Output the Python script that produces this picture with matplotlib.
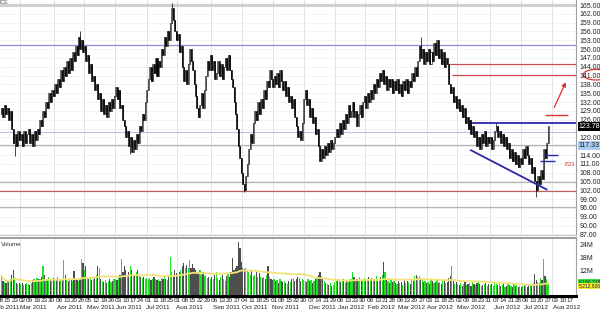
import matplotlib
matplotlib.use("Agg")
import matplotlib.pyplot as plt
import matplotlib.transforms as mtrans
from matplotlib.patches import Ellipse
import numpy as np
import pandas as pd

# ---- data (daily closes / volume in millions, one list per month)
HOLIDAYS = ["2011-02-21", "2011-04-22", "2011-05-30", "2011-07-04", "2011-09-05",
            "2011-11-24", "2011-12-26", "2012-01-02", "2012-01-16", "2012-02-20",
            "2012-04-06", "2012-05-28", "2012-07-04"]
AXIS_START = "2011-02-08"   # first trading day of the x axis
AXIS_END = "2012-08-31"
FIRST_OPEN = 128.0

CLOSES = [
    [130, 127, 131, 128, 130, 126, 129, 123, 118, 121, 117, 122, 119],
    [121, 117, 122, 118, 121, 123, 118, 121, 117, 122, 119, 123, 121, 126, 124, 129, 127, 132, 130,
     135, 132, 136, 134],
    [138, 135, 140, 137, 143, 139, 144, 141, 146, 142, 147, 143, 149, 146, 151, 148, 154, 150, 153, 149],
    [151, 146, 148, 142, 145, 139, 141, 136, 138, 133, 135, 129, 133, 128, 131, 127, 132, 129, 133, 130, 134],
    [137, 133, 136, 130, 131, 126, 124, 120, 122, 117, 120, 115, 119, 116, 121, 118, 124, 122, 128, 126,
     132, 136],
    [140, 144, 139, 145, 142, 147, 141, 146, 144, 150, 148, 154, 151, 156, 153, 159, 164, 160, 156, 153],
    [155, 149, 151, 144, 139, 143, 138, 145, 150, 146, 143, 138, 134, 130, 127, 131, 135, 130, 136, 141,
     146, 143, 148],
    [143, 146, 140, 142, 146, 141, 145, 140, 144, 147, 143, 148, 143, 140, 137, 132, 128, 123, 117, 113, 108],
    [104, 102, 107, 111, 116, 121, 118, 125, 129, 126, 132, 128, 133, 130, 136, 133, 139, 137, 143, 140, 137],
    [141, 138, 142, 137, 143, 139, 136, 139, 134, 137, 132, 134, 130, 133, 127, 124, 120, 122, 119, 125, 133],
    [136, 131, 133, 127, 130, 125, 127, 121, 123, 117, 112, 116, 113, 117, 114, 118, 115, 119, 116, 118, 120],
    [123, 120, 125, 121, 126, 123, 128, 125, 131, 127, 129, 132, 127, 129, 124, 128, 131, 127, 132, 134],
    [130, 135, 132, 136, 133, 138, 135, 140, 137, 142, 139, 143, 138, 141, 136, 140, 137, 140, 135, 139],
    [136, 140, 135, 138, 134, 139, 136, 140, 135, 139, 137, 142, 139, 144, 141, 146, 151, 147, 150, 145,
     149, 146],
    [150, 145, 149, 146, 152, 148, 153, 147, 150, 145, 149, 144, 147, 145, 138, 135, 137, 132, 134, 130],
    [133, 129, 131, 127, 130, 125, 127, 123, 126, 121, 124, 120, 122, 117, 120, 116, 121, 118, 122, 117,
     120, 118],
    [120, 116, 119, 122, 124, 120, 122, 118, 121, 117, 120, 116, 118, 113, 116, 112, 115, 111, 114, 110, 113],
    [111, 116, 113, 117, 114, 111, 113, 108, 110, 105, 102, 107, 104, 109, 106, 116, 113, 118, 123.78],
]
VOLUMES = [
    [9.5, 7, 6.5, 6, 7, 6.5, 8, 10, 12, 9, 6, 5.5, 6],
    [5.5, 6, 5, 5.8, 6.2, 5.6, 5, 6, 7.5, 8, 7, 8.5, 8, 7.8, 9, 14, 10, 8, 7.5, 9, 8, 7, 8.5],
    [7.5, 8, 9, 7, 7.5, 8, 16.6, 10, 8, 7, 7.5, 8, 7, 11.6, 8, 7.5, 7, 8.5, 17, 15.5],
    [12, 14, 9, 8, 8.5, 7.5, 8, 9, 10, 14, 13, 8, 7, 6.5, 7.5, 6, 7, 8, 6.5, 7, 8],
    [8, 7.5, 9, 10, 17, 11, 14, 12, 10, 11, 14, 12, 10, 9.5, 11, 12, 10, 9, 8.5, 9, 8, 8.5],
    [8, 8.5, 7.5, 8, 9, 8, 7.5, 8, 7, 8.5, 8, 9, 8, 7.5, 10, 18, 11, 10, 12, 10.5],
    [10, 11, 12, 14, 15.5, 13, 14.5, 13, 16.6, 13, 15, 13, 12, 11, 10.5, 12, 10, 11, 9.5, 10, 8.5, 9, 8],
    [9, 8, 10, 11, 8.5, 7.5, 9, 10, 8, 7, 9.5, 10.5, 9, 11, 17.8, 12, 13, 14, 25, 22.5, 16],
    [13, 12.5, 13, 12, 11, 10, 12, 9.5, 10, 11, 9, 10.5, 9, 8.5, 9, 8, 10, 14, 9, 8, 7.5],
    [8, 7, 7.5, 6, 8, 7, 6.5, 7, 6, 5.5, 7, 6.5, 8, 8.5, 7, 8, 9, 8.5, 7, 8, 7.5],
    [7, 6.5, 8, 7, 7.5, 6, 7, 8, 9, 10, 11, 9.5, 8, 7, 6, 5.5, 5, 6, 4.5, 5, 6.5],
    [7, 8, 7.5, 6.5, 7, 8, 6, 7.5, 6.5, 7, 8, 11, 9, 7.5, 8, 7, 9, 8, 7, 8.5],
    [7, 8, 9, 7.5, 8.5, 7, 8, 9.5, 7, 8, 9, 10, 16, 11, 8, 7, 6, 7.5, 6.5, 7],
    [6, 5.5, 7, 6, 6.5, 5, 7.5, 6, 7, 6.5, 5.5, 8, 7, 9.5, 10, 9, 9.5, 8.5, 7.5, 6.5, 7, 6],
    [6.5, 5.5, 7.5, 7, 6, 6.5, 7.5, 6, 6.5, 5.5, 7, 7.5, 6, 6.5, 8.5, 9.5, 14, 7, 5.5, 6.5],
    [5.5, 5, 6, 4.5, 5.5, 6.5, 5, 5.5, 6, 4.5, 6.5, 5.5, 5, 6, 6.5, 5.5, 4.5, 5, 5.5, 6, 4.5, 5.5],
    [5, 5.5, 4.5, 6, 6.5, 5, 5.5, 4.5, 5, 5.5, 4, 4.5, 5.5, 5, 4.5, 4, 5.5, 4.5, 5, 4, 4.5],
    [4, 4.5, 5, 4.5, 4, 5, 5.5, 4.5, 6, 10.4, 7.5, 6.5, 6, 8.5, 7.5, 17, 9.5, 8, 6.19],
]
# notable shadows visible on the chart
WICK_DATES = ["2011-02-23", "2011-04-27", "2011-06-15", "2011-07-26", "2011-10-04",
              "2012-03-26", "2012-06-07", "2012-07-17"]
WICK_PRICES = [113.5, 156.0, 114.5, 165.8, 101.3, 154.0, 125.0, 99.7]

# drawn studies
RESIST_LEVEL = 125.0
SUPPORT_FROM = ("2012-05-14", 115.6)
SUPPORT_TO = ("2012-07-26", 102.3)
GAP_TOP, GAP_BOTTOM = 145.0, 141.2
TARGET_LEVEL = 127.6
LAST_PRICE, MARK_PRICE = 123.78, 117.33
FULL_LINES = [(165.0, "#d0d0d0", 2.2), (151.4, "#8c8cd0", 0.9), (121.8, "#c0c0e8", 0.8),
              (117.33, "#b4b4b4", 0.9), (104.8, "#b4b4b4", 0.9), (101.7, "#c06060", 0.9),
              (96.2, "#b4b4b4", 0.9)]

# ---- trading calendar
days = pd.bdate_range(AXIS_START, AXIS_END)
days = days[~days.isin(pd.to_datetime(HOLIDAYS))]
pos = {d: i for i, d in enumerate(days)}

close = np.array([c for m in CLOSES for c in m], dtype=float)
vol = np.array([v for m in VOLUMES for v in m], dtype=float)
n = len(close)
idx = np.arange(1, n + 1)
openp = np.r_[FIRST_OPEN, close[:-1]]
lo = np.minimum(openp, close)
hi = np.maximum(openp, close)
wlo, whi = lo.copy(), hi.copy()
for d, p in zip(WICK_DATES, WICK_PRICES):
    k = pos[pd.Timestamp(d)] - 1
    wlo[k] = min(wlo[k], p)
    whi[k] = max(whi[k], p)
up = close >= openp

plt.rcParams["font.family"] = ["Liberation Sans", "DejaVu Sans"]
fig = plt.figure(figsize=(6.0, 3.09), dpi=100)
W, H = 600, 309
ax = fig.add_axes([0, 1 - 235 / H, 576 / W, 235 / H])
axv = fig.add_axes([0, 1 - 296 / H, 576 / W, 58 / H], sharex=ax)

XMIN, XMAX = 0.855, 388.9
ax.set_xlim(XMIN, XMAX)
ax.set_ylim(86.8, 166.7)
axv.set_ylim(0, 27)

# month grid
month_first = [i for i in range(1, len(days)) if days[i].month != days[i - 1].month]
for a in (ax, axv):
    for i in month_first:
        a.axvline(i - 0.5, color="#dedede", lw=0.6, zorder=0)
for p in np.arange(87, 166, 3):
    ax.axhline(p, color="#efefef", lw=0.5, zorder=0)

for p, c, lw in FULL_LINES:
    ax.axhline(p, color=c, lw=lw, zorder=1)

# candles
ax.vlines(idx, wlo, whi, color="black", lw=0.5, zorder=2)
body = np.maximum(hi - lo, 0.15)
ax.bar(idx[up], body[up], bottom=lo[up], width=0.68, color="white", edgecolor="black",
       linewidth=0.4, zorder=3)
ax.bar(idx[~up], body[~up], bottom=lo[~up], width=0.68, color="black", edgecolor="black",
       linewidth=0.4, zorder=3)

# studies
def x_of(d):
    return pos[pd.Timestamp(d)]

ax.hlines(GAP_TOP, 302.5, XMAX, color="#cc4b4b", lw=0.9, zorder=2)
ax.hlines(GAP_BOTTOM, 305, XMAX, color="#cc4b4b", lw=0.9, zorder=2)
ax.hlines(TARGET_LEVEL, 368, 383.5, color="#dd3333", lw=1.0, zorder=2)
ax.hlines(RESIST_LEVEL, 318.8, XMAX, color="#2a2aa8", lw=1.3, zorder=4)
ax.plot([x_of(SUPPORT_FROM[0]), x_of(SUPPORT_TO[0])], [SUPPORT_FROM[1], SUPPORT_TO[1]],
        color="#2a2aa8", lw=1.3, zorder=4)
ax.hlines(114.0, 368, 377, color="#2a2aa8", lw=1.0, zorder=4)
ax.hlines(111.9, 364.6, 374.7, color="#2a2aa8", lw=1.0, zorder=4)
ax.annotate("", xy=(382.8, 139.6), xytext=(373.4, 129.3),
            arrowprops=dict(arrowstyle="-|>", color="#dd3333", lw=0.9, mutation_scale=6))
ax.text(384.5, 110.6, "7/23", color="#dd3333", fontsize=4.2, ha="center", va="center")

# right price scale
ticks = [p for p in np.arange(87, 166, 3) if p not in (123, 117)]
ax.yaxis.tick_right()
ax.set_yticks(ticks)
ax.set_yticklabels([f"{p:.2f}" for p in ticks])
ax.tick_params(axis="y", length=0, pad=2.5, labelsize=5, labelcolor="#222222")
ax.tick_params(axis="x", length=0, labelbottom=False)
tr = mtrans.blended_transform_factory(ax.transAxes, ax.transData)
ax.text(1.0045, LAST_PRICE, f"{LAST_PRICE:.2f}", transform=tr, fontsize=5, color="white",
        va="center", ha="left",
        bbox=dict(boxstyle="square,pad=0.15", fc="black", ec="none"))
ax.text(1.0045, MARK_PRICE, f"{MARK_PRICE:.2f}", transform=tr, fontsize=5, color="#222222",
        va="center", ha="left",
        bbox=dict(boxstyle="square,pad=0.15", fc="#a9cdf0", ec="none"))
ell = Ellipse((1.0345, GAP_BOTTOM + 0.1), 0.044, 3.6, transform=tr, fill=False,
              ec="#dd3333", lw=0.9, clip_on=False)
ax.add_patch(ell)
ax.text(0.0, 0.998, "ICE", transform=ax.transAxes, fontsize=3.8, color="#555555",
        va="top", ha="left")

for s in ("left", "top"):
    ax.spines[s].set_visible(False)
ax.spines["right"].set_color("#a0a0a0")
ax.spines["bottom"].set_color("#c8c8c8")

# volume
vcol = np.where(up, "#22e022", "#4e4e4e")
axv.bar(idx, vol, width=0.8, color=vcol, linewidth=0, zorder=2)
ma = pd.Series(vol).rolling(50, min_periods=1).mean()
axv.plot(idx, ma, color="#f2e47a", lw=1.3, zorder=3)
axv.text(0.002, 0.93, "Volume", transform=axv.transAxes, fontsize=4.5, color="#333333",
         va="top", ha="left")
axv.yaxis.tick_right()
axv.set_yticks([12, 18, 24])
axv.set_yticklabels(["12M", "18M", "24M"])
axv.tick_params(axis="y", length=0, pad=2.5, labelsize=5, labelcolor="#222222")
trv = mtrans.blended_transform_factory(axv.transAxes, axv.transData)
axv.text(1.0045, 6.6, "6,190,718", transform=trv, fontsize=3.6, color="#222222", va="center",
         ha="left", bbox=dict(boxstyle="square,pad=0.1", fc="#33e033", ec="none"))
axv.text(1.0045, 4.6, "5,212,926", transform=trv, fontsize=3.6, color="#222222", va="center",
         ha="left", bbox=dict(boxstyle="square,pad=0.1", fc="#f0ea30", ec="none"))
axv.spines["left"].set_visible(False)
axv.spines["top"].set_color("#8c8c8c")
axv.spines["top"].set_linewidth(1.2)
axv.spines["right"].set_color("#a0a0a0")
axv.spines["bottom"].set_color("black")
axv.spines["bottom"].set_linewidth(2.2)

# date axis: a label every 5 trading days, month name under the first one
tick_pos = [i for i in range(len(days)) if (i - 15) % 5 == 0 and XMIN - 2 <= i <= XMAX]
axv.set_xticks(tick_pos)
axv.set_xticklabels([days[i].strftime("%d") for i in tick_pos])
axv.tick_params(axis="x", length=0, pad=1.2, labelsize=4.6, labelcolor="#222222")
trx = mtrans.blended_transform_factory(axv.transData, axv.transAxes)
seen = set()
for i in tick_pos:
    key = (days[i].year, days[i].month)
    if key in seen:
        continue
    shift = 4.5 if not seen else 1.5   # first month name runs off the left edge
    seen.add(key)
    axv.text(i - shift, -0.15, days[i].strftime("%b %Y"), transform=trx, fontsize=4.6,
             color="#222222", va="top", ha="left")

fig.savefig("out.png", dpi=100)
